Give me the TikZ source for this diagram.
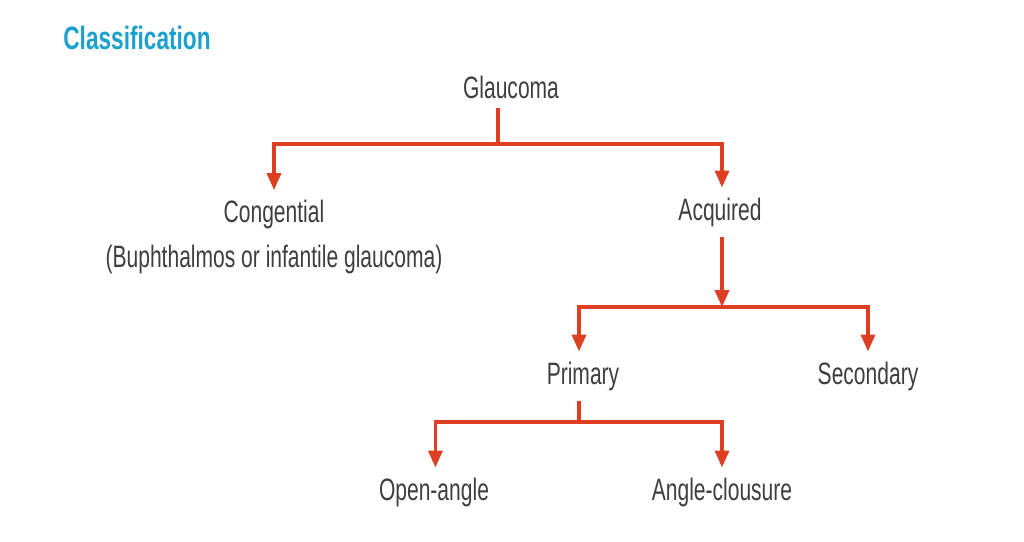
\documentclass[tikz,border=0pt]{standalone}
\usepackage{fontspec}
\setmainfont{Liberation Sans}[FakeStretch=0.68]
\newfontfamily\headfont{Liberation Sans}[FakeStretch=0.70]
\usetikzlibrary{arrows.meta, positioning}
\definecolor{clsblue}{RGB}{28,160,205}
\definecolor{treered}{RGB}{222,62,34}
\definecolor{txtgrey}{RGB}{62,62,62}

\begin{document}
\begin{tikzpicture}[x=0.025cm, y=-0.025cm,
            lbl/.style={text=txtgrey, font=\fontsize{22}{32}\selectfont,
                    inner sep=7pt, align=center},
            heading/.style={text=clsblue, font=\headfont\fontsize{23}{27}\selectfont\bfseries},
            link/.style={draw=treered, line width=2.3pt},
            arr/.style={link, -{Triangle[width=10pt, length=12pt]}}]

        \useasboundingbox (0,0) rectangle (1024,541);

        \node[heading] (cls) at (137,38) {Classification};

        % tree labels
        \node[lbl] (gl) at (511,87)  {Glaucoma};
        \node[lbl, anchor=north] (cg) at (274,190) {Congential\\(Buphthalmos or infantile glaucoma)};
        \node[lbl] (aq) at (720,212) {Acquired};
        \node[lbl] (pr) at (583,376) {Primary};
        \node[lbl] (sc) at (868,376) {Secondary};
        \node[lbl] (oa) at (434,492) {Open-angle};
        \node[lbl] (ac) at (722,492) {Angle-clousure};

        % junctions
        \coordinate (j1) at (498,144);
        \coordinate (j2) at (722,307);
        \coordinate (j3) at (579,422);

        \draw[link] (gl.south -| j1) -- (j1);
        \draw[arr] (j1) -| (cg.north);
        \draw[arr] (j1) -| (aq.north -| j2);

        \draw[arr] (aq.south -| j2) -- (j2);
        \draw[arr] (j2) -| (pr.north -| j3);
        \draw[arr] (j2) -| (sc.north);

        \draw[link] (pr.south -| j3) -- (j3);
        \draw[arr] (j3) -| ([xshift=1]oa.north);
        \draw[arr] (j3) -| (ac.north);
    \end{tikzpicture}
\end{document}
